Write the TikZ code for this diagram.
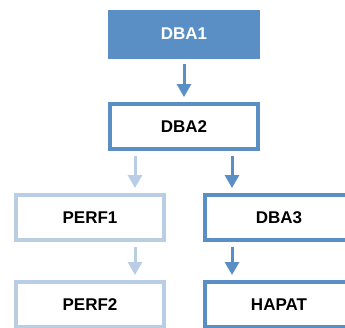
\documentclass[tikz,border=0pt]{standalone}
\usepackage{fontspec}
\setmainfont{Liberation Sans}
\usetikzlibrary{arrows.meta}

\definecolor{darkblue}{RGB}{90,143,198}
\definecolor{lightblue}{RGB}{185,205,229}

\begin{document}
\begin{tikzpicture}[x=1pt, y=-1pt,
        box/.style={draw, line width=4pt, minimum width=148pt, minimum height=45pt,
            inner sep=0pt, font=\fontsize{17}{20}\selectfont\bfseries},
        darkbox/.style={box, draw=darkblue, fill=white},
        lightbox/.style={box, draw=lightblue, fill=white},
        arr/.style={line width=3pt, -{Triangle[width=14pt,length=13pt]},
            shorten <=5pt, shorten >=5pt}]
        \useasboundingbox (0,0) rectangle (345,327);
        \clip (0,0) rectangle (345,327);

        \node[box, draw=darkblue, fill=darkblue, text=white] (dba1) at (184,34) {DBA1};
        \node[darkbox] (dba2) at (184,126.5) {DBA2};
        \node[lightbox] (perf1) at (90,217.5) {PERF1};
        \node[darkbox] (dba3) at (279,217.5) {DBA3};
        \node[lightbox] (perf2) at (90,304.5) {PERF2};
        \node[darkbox] (hapat) at (279,304.5) {HAPAT};

        % arrow columns
        \coordinate (left) at ([xshift=27pt]dba2.south west);
        \coordinate (right) at ([xshift=-28pt]dba2.south east);

        \draw[arr, darkblue] (dba1) -- (dba2);
        \draw[arr, lightblue] (left) -- (left |- perf1.north);
        \draw[arr, darkblue] (right) -- (right |- dba3.north);
        \draw[arr, lightblue] (left |- perf1.south) -- (left |- perf2.north);
        \draw[arr, darkblue] (right |- dba3.south) -- (right |- hapat.north);

    \end{tikzpicture}
\end{document}
